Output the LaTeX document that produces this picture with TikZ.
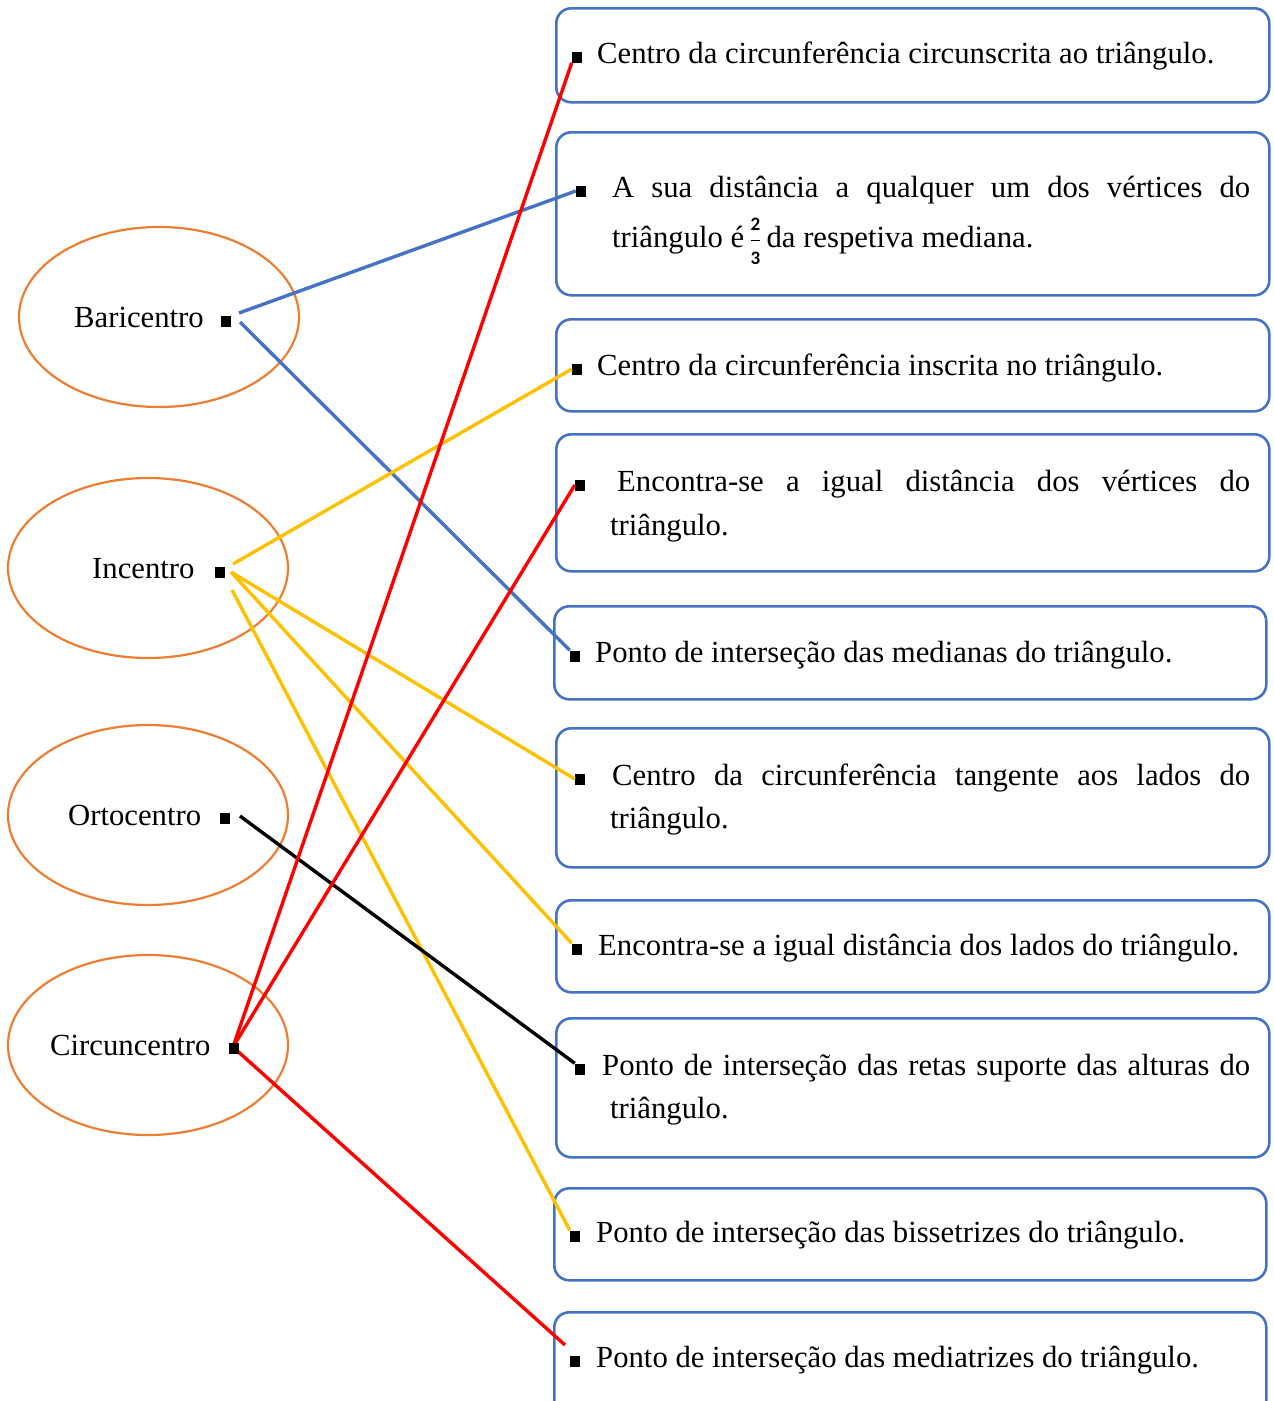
\documentclass[tikz,border=0pt]{standalone}
\usepackage{amsmath}
\usepackage{fontspec}
\setmainfont{Liberation Serif}
\setsansfont{Carlito}
\usetikzlibrary{shapes.geometric}
\definecolor{boxblue}{HTML}{4472C4}
\definecolor{ellorange}{HTML}{ED7D31}
\definecolor{lnblue}{HTML}{4472C4}
\definecolor{lnyellow}{HTML}{FFC000}
\definecolor{lnred}{HTML}{FF0000}
\newcommand{\fracdigit}[1]{\mbox{\fontsize{19}{19}\selectfont\sffamily\bfseries #1}}
\begin{document}
\begin{tikzpicture}[x=1pt,y=-1pt,
  infobox/.style={draw=boxblue, line width=2.6pt, rounded corners=15pt, inner sep=0pt, anchor=north west},
  catell/.style={draw=ellorange, line width=2.2pt, ellipse, inner sep=0pt, minimum width=280pt, minimum height=180pt},
  txt/.style={anchor=base west, inner sep=0pt, font=\fontsize{30.7}{43}\selectfont},
  sq/.style={fill=black, inner sep=0pt, minimum width=10pt, minimum height=11pt},
  link/.style={line width=3.4pt}
]
\useasboundingbox (0,0) rectangle (1274,1401);
\clip (0,0) rectangle (1274,1401);

% ellipses
\node[catell] (ebar) at (159,317) {};
\node[catell] (einc) at (148,568) {};
\node[catell] (eort) at (148,815) {};
\node[catell] (ecir) at (148,1045) {};
\node[txt] (lbar) at (74,327) {Baricentro};
\node[txt] (linc) at (92,578) {Incentro};
\node[txt] (lort) at (68,825) {Ortocentro};
\node[txt] (lcir) at (50,1055) {Circuncentro};
\node[sq] (qb) at (225.5,321) {};
\node[sq] (qi) at (220,572.5) {};
\node[sq] (qo) at (225,818.5) {};

% boxes
\node[infobox, minimum width=713pt, minimum height=94pt]  (b1) at (555,7) {};
\node[infobox, minimum width=713pt, minimum height=163pt] (b2) at (555,131) {};
\node[infobox, minimum width=713pt, minimum height=92pt]  (b3) at (555,318) {};
\node[infobox, minimum width=713pt, minimum height=137pt] (b4) at (555,433) {};
\node[infobox, minimum width=712pt, minimum height=93pt]  (b5) at (553,605) {};
\node[infobox, minimum width=713pt, minimum height=139pt] (b6) at (555,727) {};
\node[infobox, minimum width=713pt, minimum height=92pt]  (b7) at (555,899) {};
\node[infobox, minimum width=713pt, minimum height=139pt] (b8) at (555,1017) {};
\node[infobox, minimum width=712pt, minimum height=92pt]  (b9) at (553,1187) {};
\node[infobox, minimum width=712pt, minimum height=110pt] (b10) at (553,1311) {};

% box texts
\node[txt] (t1) at (597,63) {Centro da circunferência circunscrita ao triângulo.};
\node[txt] (t2a) at (612,197) {\makebox[638pt][s]{A sua distância a qualquer um dos vértices do}};
\node[txt] (t2b) at (612,247) {triângulo é\,$\genfrac{}{}{1.2pt}{0}{\fracdigit{2}}{\fracdigit{3}}$\,da respetiva mediana.};
\node[txt] (t3) at (597,375) {Centro da circunferência inscrita no triângulo.};
\node[txt] (t4a) at (617,491) {\makebox[633pt][s]{Encontra-se a igual distância dos vértices do}};
\node[txt] (t4b) at (610,535) {triângulo.};
\node[txt] (t5) at (595,662) {Ponto de interseção das medianas do triângulo.};
\node[txt] (t6a) at (612,785) {\makebox[638pt][s]{Centro da circunferência tangente aos lados do}};
\node[txt] (t6b) at (610,828) {triângulo.};
\node[txt] (t7) at (598,955) {Encontra-se a igual distância dos lados do triângulo.};
\node[txt] (t8a) at (602,1075) {\makebox[648pt][s]{Ponto de interseção das retas suporte das alturas do}};
\node[txt] (t8b) at (610,1118) {triângulo.};
\node[txt] (t9) at (596,1242) {Ponto de interseção das bissetrizes do triângulo.};
\node[txt] (t10) at (596,1367) {Ponto de interseção das mediatrizes do triângulo.};

% box bullets
\node[sq] (q1) at (577,57) {};
\node[sq] (q2) at (581,191) {};
\node[sq] (q3) at (577,369) {};
\node[sq] (q4) at (580,485) {};
\node[sq] (q5) at (575,656) {};
\node[sq] (q6) at (580,779) {};
\node[sq] (q7) at (577,949) {};
\node[sq] (q8) at (580,1069) {};
\node[sq] (q9) at (575,1236) {};
\node[sq] (q10) at (575,1361) {};

% connector start/end points
\coordinate (bar1) at (239,313);
\coordinate (bar2) at (240,322);
\coordinate (inc1) at (233,564);
\coordinate (inc2) at (231,572);
\coordinate (inc3) at (232,590);
\coordinate (ort1) at (240,816);
\coordinate (cir) at (233,1047);
\coordinate (e10) at (565,1345);

% connectors
\draw[link, lnblue] (bar1) -- (q2.west);
\draw[link, lnblue] (bar2) -- (q5.north west);
\draw[link, lnyellow] (inc1) -- (q3.west);
\draw[link, lnyellow] (inc2) -- (q6.west);
\draw[link, lnyellow] (inc2) -- (q7.north west);
\draw[link, lnyellow] (inc3) -- (q9.north west);
\draw[link, black] (ort1) -- (q8.north west);
\draw[link, lnred] (cir) -- (q1.south west);
\draw[link, lnred] (cir) -- (q4.west);
\draw[link, lnred] (cir) -- (e10);
\node[sq] (qc) at (234,1048) {};
\end{tikzpicture}
\end{document}
